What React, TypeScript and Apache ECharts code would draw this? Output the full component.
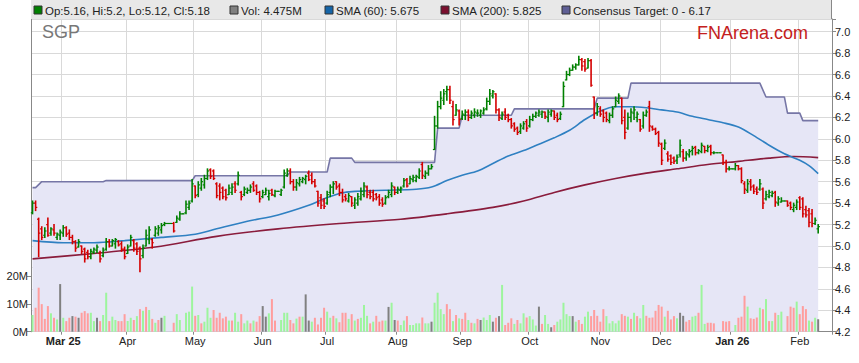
import React, { useEffect, useRef } from "react";
import * as echarts from "echarts";

// ---------- data ----------
const firstTradingDay = "2025-02-17";
const slotCount = 261;
const monthNames = ["Jan", "Feb", "Mar", "Apr", "May", "Jun", "Jul", "Aug", "Sep", "Oct", "Nov", "Dec"];

// [open, high, low, close] per weekday slot (holidays drawn flat at previous close)
const priceBars: [number, number, number, number][] = [
  [5.31,5.42,5.30,5.40],[5.40,5.42,5.33,5.36],[5.25,5.26,4.90,5.12],[5.16,5.18,5.06,5.08],[5.10,5.17,5.08,5.14],
  [5.20,5.26,5.09,5.10],[5.12,5.17,5.10,5.16],[5.15,5.20,5.10,5.12],[5.08,5.12,5.06,5.11],[5.10,5.15,5.06,5.13],
  [5.12,5.19,5.09,5.17],[5.17,5.18,5.09,5.11],[5.12,5.15,5.06,5.08],[5.08,5.10,5.02,5.04],[5.04,5.05,4.95,4.98],
  [4.99,5.06,4.99,5.04],[5.00,5.00,4.93,4.95],[4.97,4.98,4.85,4.88],[4.94,4.96,4.88,4.90],[4.90,4.97,4.88,4.95],
  [4.94,4.98,4.93,4.97],[4.96,5.01,4.94,4.99],[4.93,4.95,4.85,4.88],[4.91,4.98,4.90,4.96],[4.97,5.07,4.96,5.04],
  [5.04,5.06,4.99,5.00],[5.00,5.06,5.00,5.05],[5.02,5.07,4.98,5.06],[5.04,5.05,5.00,5.01],[5.02,5.04,4.95,4.97],
  [4.97,4.99,4.88,4.90],[4.93,5.01,4.93,4.99],[5.00,5.10,5.00,5.08],[5.05,5.06,4.95,4.98],[5.02,5.03,4.92,4.95],
  [4.98,4.99,4.76,4.88],[4.91,5.01,4.89,4.98],[5.00,5.15,5.00,5.10],[5.06,5.18,5.02,5.15],[5.06,5.07,4.98,5.03],
  [5.10,5.18,5.09,5.16],[5.12,5.19,5.10,5.17],[5.15,5.21,5.12,5.19],[5.20,5.22,5.19,5.21],[5.21,5.21,5.21,5.21],
  [5.21,5.21,5.21,5.21],[5.21,5.22,5.13,5.14],[5.22,5.28,5.22,5.26],[5.25,5.32,5.24,5.30],[5.30,5.30,5.30,5.30],
  [5.31,5.42,5.30,5.39],[5.36,5.42,5.34,5.40],[5.42,5.62,5.41,5.58],[5.56,5.56,5.45,5.47],[5.48,5.60,5.46,5.57],
  [5.54,5.63,5.52,5.60],[5.57,5.66,5.54,5.63],[5.63,5.72,5.62,5.70],[5.71,5.72,5.63,5.65],[5.70,5.71,5.62,5.63],
  [5.58,5.59,5.45,5.47],[5.56,5.58,5.43,5.50],[5.54,5.55,5.44,5.46],[5.52,5.53,5.43,5.45],[5.48,5.57,5.48,5.54],
  [5.50,5.58,5.48,5.55],[5.58,5.60,5.50,5.52],[5.58,5.69,5.57,5.66],[5.50,5.51,5.43,5.46],[5.48,5.55,5.47,5.53],
  [5.50,5.54,5.49,5.52],[5.52,5.57,5.50,5.55],[5.58,5.60,5.51,5.52],[5.56,5.57,5.48,5.50],[5.50,5.51,5.41,5.44],
  [5.46,5.52,5.45,5.50],[5.48,5.54,5.48,5.52],[5.46,5.52,5.43,5.49],[5.52,5.53,5.47,5.48],[5.47,5.52,5.46,5.51],
  [5.51,5.51,5.51,5.51],[5.48,5.53,5.47,5.52],[5.55,5.71,5.54,5.68],[5.66,5.72,5.65,5.70],[5.70,5.72,5.58,5.60],
  [5.60,5.62,5.52,5.55],[5.55,5.62,5.52,5.59],[5.58,5.64,5.56,5.62],[5.60,5.64,5.59,5.63],[5.62,5.66,5.58,5.65],
  [5.68,5.70,5.61,5.62],[5.66,5.68,5.58,5.60],[5.60,5.62,5.55,5.56],[5.51,5.51,5.37,5.40],[5.45,5.48,5.35,5.38],
  [5.42,5.44,5.35,5.37],[5.40,5.51,5.39,5.48],[5.50,5.57,5.46,5.55],[5.55,5.60,5.49,5.58],[5.60,5.60,5.53,5.55],
  [5.56,5.58,5.47,5.50],[5.50,5.53,5.41,5.43],[5.46,5.48,5.42,5.44],[5.42,5.49,5.41,5.47],[5.46,5.46,5.37,5.40],
  [5.38,5.45,5.35,5.43],[5.40,5.49,5.38,5.46],[5.44,5.54,5.43,5.51],[5.48,5.59,5.46,5.56],[5.55,5.56,5.45,5.48],
  [5.50,5.52,5.44,5.46],[5.50,5.52,5.42,5.44],[5.48,5.49,5.43,5.45],[5.46,5.48,5.38,5.40],[5.43,5.45,5.37,5.39],
  [5.40,5.47,5.39,5.45],[5.46,5.52,5.45,5.50],[5.48,5.59,5.46,5.56],[5.55,5.55,5.48,5.50],[5.50,5.55,5.49,5.53],
  [5.52,5.55,5.50,5.54],[5.56,5.63,5.55,5.61],[5.62,5.63,5.55,5.56],[5.58,5.65,5.58,5.63],[5.62,5.66,5.60,5.64],
  [5.61,5.66,5.60,5.65],[5.64,5.72,5.63,5.70],[5.76,5.78,5.63,5.66],[5.65,5.70,5.63,5.68],[5.68,5.75,5.66,5.72],
  [5.72,5.76,5.72,5.74],[5.90,6.21,5.90,6.12],[6.12,6.35,6.10,6.30],[6.30,6.44,6.28,6.38],[6.36,6.46,6.32,6.42],
  [6.44,6.49,6.36,6.46],[6.46,6.49,6.33,6.36],[6.30,6.35,6.13,6.18],[6.22,6.32,6.22,6.27],[6.26,6.27,6.13,6.18],
  [6.19,6.26,6.18,6.23],[6.22,6.27,6.18,6.25],[6.25,6.27,6.17,6.20],[6.20,6.26,6.19,6.24],[6.22,6.28,6.20,6.25],
  [6.24,6.27,6.21,6.24],[6.22,6.27,6.20,6.26],[6.24,6.29,6.23,6.27],[6.28,6.38,6.27,6.35],[6.35,6.46,6.32,6.42],
  [6.40,6.45,6.38,6.44],[6.42,6.42,6.24,6.27],[6.27,6.28,6.17,6.20],[6.19,6.25,6.18,6.23],[6.25,6.28,6.18,6.20],
  [6.22,6.23,6.16,6.18],[6.18,6.19,6.10,6.12],[6.14,6.15,6.07,6.09],[6.10,6.11,6.04,6.06],[6.07,6.14,6.05,6.12],
  [6.10,6.16,6.09,6.14],[6.16,6.18,6.07,6.10],[6.12,6.21,6.11,6.18],[6.18,6.23,6.17,6.21],[6.21,6.25,6.20,6.24],
  [6.22,6.27,6.21,6.25],[6.23,6.26,6.20,6.25],[6.25,6.25,6.19,6.21],[6.20,6.27,6.16,6.25],[6.23,6.27,6.21,6.26],
  [6.26,6.26,6.18,6.20],[6.22,6.24,6.16,6.18],[6.19,6.25,6.18,6.23],[6.30,6.53,6.30,6.49],[6.55,6.63,6.55,6.60],
  [6.60,6.66,6.59,6.64],[6.64,6.69,6.64,6.67],[6.67,6.70,6.65,6.69],[6.69,6.77,6.69,6.74],[6.74,6.75,6.64,6.68],
  [6.72,6.74,6.63,6.65],[6.66,6.75,6.66,6.73],[6.73,6.74,6.49,6.50],[6.39,6.39,6.19,6.24],[6.24,6.33,6.22,6.30],
  [6.28,6.30,6.21,6.23],[6.26,6.27,6.16,6.20],[6.24,6.25,6.16,6.18],[6.17,6.24,6.15,6.22],[6.22,6.30,6.20,6.28],
  [6.30,6.39,6.30,6.36],[6.35,6.42,6.33,6.40],[6.38,6.38,6.14,6.17],[6.20,6.27,6.00,6.06],[6.10,6.24,6.09,6.20],
  [6.20,6.28,6.16,6.25],[6.24,6.30,6.18,6.27],[6.20,6.25,6.16,6.23],[6.18,6.18,6.07,6.09],[6.12,6.25,6.10,6.22],
  [6.22,6.27,6.21,6.25],[6.30,6.35,6.07,6.12],[6.11,6.12,6.08,6.09],[6.09,6.10,6.04,6.05],[6.06,6.07,5.93,5.96],
  [5.95,5.96,5.76,5.80],[5.91,5.99,5.90,5.96],[5.86,5.88,5.79,5.81],[5.84,5.85,5.76,5.78],[5.82,5.83,5.77,5.79],
  [5.80,5.85,5.77,5.83],[5.85,5.99,5.83,5.94],[5.88,5.90,5.79,5.82],[5.82,5.88,5.80,5.86],[5.85,5.90,5.83,5.88],
  [5.89,5.93,5.85,5.91],[5.92,5.93,5.85,5.87],[5.87,5.90,5.86,5.89],[5.88,5.96,5.87,5.94],[5.93,5.93,5.87,5.89],
  [5.89,5.94,5.88,5.92],[5.93,5.94,5.85,5.87],[5.87,5.88,5.86,5.87],[5.87,5.87,5.87,5.87],[5.87,5.87,5.87,5.87],
  [5.85,5.85,5.76,5.78],[5.78,5.80,5.69,5.72],[5.72,5.74,5.71,5.72],[5.72,5.72,5.72,5.72],[5.72,5.77,5.71,5.75],
  [5.75,5.75,5.71,5.72],[5.72,5.73,5.59,5.61],[5.58,5.60,5.49,5.53],[5.52,5.62,5.50,5.58],[5.60,5.62,5.52,5.55],
  [5.56,5.57,5.49,5.51],[5.53,5.55,5.48,5.50],[5.53,5.62,5.52,5.58],[5.53,5.54,5.35,5.40],[5.44,5.51,5.43,5.48],
  [5.46,5.52,5.45,5.50],[5.47,5.51,5.46,5.49],[5.50,5.51,5.37,5.41],[5.40,5.46,5.38,5.44],[5.41,5.45,5.41,5.42],
  [5.42,5.42,5.42,5.42],[5.42,5.42,5.37,5.38],[5.40,5.41,5.34,5.36],[5.34,5.40,5.32,5.38],[5.36,5.43,5.34,5.41],
  [5.45,5.46,5.34,5.36],[5.44,5.45,5.27,5.30],[5.34,5.37,5.27,5.29],[5.33,5.35,5.18,5.22],[5.30,5.34,5.18,5.21],
  [5.21,5.26,5.20,5.24],[5.16,5.20,5.12,5.18],
];

// volume in millions (0 on exchange holidays)
const volumes: number[] = [
  6.0,8.6,15.8,9.9,4.6,9.2,6.6,5.0,4.4,17.1,
  5.0,3.8,5.0,5.6,5.4,5.0,6.8,7.4,6.6,6.8,
  3.8,5.0,3.8,6.0,14.0,3.8,5.4,4.2,3.8,3.8,
  6.3,3.8,5.0,4.2,5.6,8.1,7.5,8.9,7.8,4.6,
  3.2,4.2,5.0,5.7,0,0,3.2,6.3,4.2,0,
  6.8,7.2,16.2,5.7,6.0,3.0,3.6,8.6,5.0,7.8,
  5.0,6.8,4.8,5.4,4.0,4.0,6.8,3.6,6.3,3.0,
  4.0,3.0,4.0,3.6,5.6,9.2,5.4,6.6,11.7,4.0,
  0,4.2,6.8,6.8,4.2,3.0,4.7,5.4,5.4,13.4,
  4.0,3.6,5.0,2.6,5.0,8.6,7.2,5.0,5.7,4.8,
  3.4,6.8,6.8,4.6,6.3,4.0,4.6,5.0,9.6,5.7,
  3.0,3.6,5.7,3.6,4.0,4.0,8.9,10.4,4.2,4.0,
  2.4,4.0,5.6,2.4,2.4,3.0,3.0,5.1,3.0,3.0,
  3.6,10.4,14.0,8.1,6.3,9.9,8.1,3.8,6.0,4.8,
  4.6,6.8,4.2,3.2,3.0,4.6,4.2,5.1,4.2,6.0,
  3.6,5.0,5.6,16.8,2.4,3.2,4.8,2.8,4.2,3.0,
  6.6,5.1,5.6,4.4,2.2,9.0,2.8,6.0,2.8,1.6,
  2.4,3.6,4.4,10.4,6.3,5.6,5.6,3.6,4.2,2.8,
  5.4,7.2,5.6,7.8,5.7,3.6,8.1,5.6,3.0,3.8,
  3.0,4.0,6.3,5.7,5.4,4.6,6.8,5.6,4.8,9.6,
  5.7,5.0,5.1,7.5,9.6,9.0,5.4,7.5,4.4,5.6,
  4.8,6.8,5.7,3.6,4.2,5.4,5.7,6.8,16.8,2.8,
  3.2,3.2,3.0,0,0,3.8,3.6,3.8,0,2.4,
  5.0,5.4,12.9,9.0,4.8,4.6,5.1,8.6,8.1,11.7,
  3.8,3.8,6.8,6.0,7.2,0,5.6,9.0,8.6,10.8,
  6.3,9.2,8.1,4.0,3.6,5.0,4.475,
];

// volume bar colour class: G up, R down, K unchanged, - none
const volumeDirs: string[] = (
  "GRRRRRGRGK" + "GRRKRKRRRG" + "GKRGGRGGRR" + "RGGRGRGRGR" + "GRKG--RGG-" +
  "GGGRGRGGGR" + "RRRRGRGGRG" + "GRGRRKKGRR" + "-GGGRRGRGK" + "KGRRRRGGRG" +
  "RRRGRGRGGG" + "RGRRRGKGKR" + "GGRGGGGRGG" + "KGGGGRRGRG" + "RRGRGRKGGG" +
  "KRKGRRRGRG" + "GRGGGKRGGK" + "RGGGGGKGRR" + "GGRRRRRGGG" + "GGRRGRGRGG" +
  "RRRRRRGRRR" + "GKKRRGGRGG" + "RRR--RRR-G" + "RRRGRRRGRG" + "RGRGG-RRRG" +
  "RRRGRGK"
).split("");

// [slot index, value]
const sma60Points: [number, number][] = [
  [0,5.05],[10,5.03],[20,5.03],[30,5.05],[42,5.08],[53,5.11],[60,5.16],[70,5.23],[80,5.29],
  [90,5.38],[95,5.44],[100,5.49],[105,5.51],[115,5.52],[125,5.53],[130,5.55],[135,5.61],
  [140,5.66],[145,5.70],[150,5.77],[155,5.84],[160,5.89],[165,5.95],[170,6.01],[175,6.08],
  [180,6.18],[185,6.26],[190,6.30],[195,6.30],[200,6.29],[205,6.27],[210,6.25],[215,6.21],
  [220,6.18],[225,6.15],[230,6.11],[235,6.03],[240,5.94],[245,5.86],[250,5.80],[253,5.75],[256,5.675],
];
const sma200Points: [number, number][] = [
  [0,4.88],[20,4.93],[40,4.99],[60,5.09],[80,5.16],[100,5.21],[120,5.25],[135,5.30],[150,5.36],
  [160,5.42],[170,5.50],[180,5.57],[190,5.63],[200,5.68],[210,5.72],[220,5.76],[230,5.79],
  [240,5.82],[248,5.835],[256,5.825],
];
const targetPoints: [number, number][] = [
  [0,5.545],[1,5.545],[3,5.60],[23,5.60],[24,5.61],[52,5.61],[53,5.655],[83,5.655],[84,5.69],
  [96,5.69],[97,5.82],[104,5.82],[105,5.78],[131,5.78],[132,6.10],[139,6.10],[140,6.22],
  [156,6.22],[157,6.28],[183,6.28],[184,6.38],[194,6.38],[195,6.52],[237,6.52],[239,6.39],
  [245,6.39],[246,6.24],[250,6.24],[251,6.17],[256,6.17],
];

const legendItems = [
  { text: "Op:5.16, Hi:5.2, Lo:5.12, Cl:5.18", color: "#008000", x: 34 },
  { text: "Vol: 4.475M", color: "#808080", x: 230 },
  { text: "SMA (60): 5.675", color: "#1565a8", x: 325 },
  { text: "SMA (200): 5.825", color: "#7a0f2e", x: 441 },
  { text: "Consensus Target: 0 - 6.17", color: "#5f5f95", x: 562 },
];

// ---------- helpers ----------
function weekdays(start: string, n: number): Date[] {
  const out: Date[] = [];
  const [y, m, d] = start.split("-").map(Number);
  let t = Date.UTC(y, m - 1, d);
  while (out.length < n) {
    const dt = new Date(t);
    const wd = dt.getUTCDay();
    if (wd !== 0 && wd !== 6) out.push(dt);
    t += 86400000;
  }
  return out;
}

const dates = weekdays(firstTradingDay, slotCount);
const categories = dates.map((d) => d.toISOString().slice(0, 10));
const monthStart = dates.map((d, i) => i > 0 && d.getUTCMonth() !== dates[i - 1].getUTCMonth());
let firstLabelSeen = false;
const labelText = dates.map((d, i) => {
  if (!monthStart[i]) return "";
  const m = monthNames[d.getUTCMonth()];
  if (!firstLabelSeen || d.getUTCMonth() === 0) {
    firstLabelSeen = true;
    return `{b|${m} ${String(d.getUTCFullYear()).slice(2)}}`;
  }
  return m;
});

const FONT = "'Liberation Sans', Arial, sans-serif";
const dirColor: Record<string, string> = { G: "#9df59d", R: "#ff9d9d", K: "#808080", "-": "rgba(0,0,0,0)" };

export default function App() {
  const ref = useRef<HTMLDivElement>(null);

  useEffect(() => {
    if (!ref.current) return;
    const chart = echarts.init(ref.current, undefined, { renderer: "svg" });

    const plotTop = 19;
    const plotBottom = 331.7;
    const pxPerUnit = 21.43 / 0.2;
    const priceMax = 4.2 + (plotBottom - plotTop) / pxPerUnit;

    const graphics: any[] = [
      { type: "rect", shape: { x: 31, y: 0, width: 801, height: 19 }, style: { fill: "#e8e8e8" }, z: 10 },
      { type: "line", shape: { x1: 831.5, y1: 0, x2: 831.5, y2: 19 }, style: { stroke: "#888", lineWidth: 1 }, z: 11 },
    ];
    legendItems.forEach((it) => {
      graphics.push({
        type: "rect",
        shape: { x: it.x, y: 6, width: 8, height: 8 },
        style: { fill: it.color, stroke: "#333", lineWidth: 1 },
        z: 11,
      });
      graphics.push({
        type: "text",
        x: it.x + 11,
        y: 10.5,
        style: { text: it.text, fill: "#222", font: `11.5px ${FONT}`, textAlign: "left", textVerticalAlign: "middle" },
        z: 11,
      });
    });
    graphics.push({
      type: "text",
      x: 42,
      y: 32,
      style: { text: "SGP", fill: "#777", font: `18px ${FONT}`, textAlign: "left", textVerticalAlign: "middle" },
      z: 11,
    });
    graphics.push({
      type: "text",
      x: 808,
      y: 33,
      style: { text: "FNArena.com", fill: "#c42020", font: `18px ${FONT}`, textAlign: "right", textVerticalAlign: "middle" },
      z: 11,
    });

    const option: any = {
      animation: false,
      backgroundColor: "#ffffff",
      textStyle: { fontFamily: FONT },
      grid: [
        { left: 31, right: 27, top: plotTop, bottom: 363 - plotBottom },
        { left: 31, right: 27, top: 276, bottom: 363 - plotBottom },
      ],
      xAxis: [
        {
          type: "category",
          gridIndex: 0,
          data: categories,
          boundaryGap: true,
          axisLine: { show: false },
          axisTick: { show: false },
          axisLabel: { show: false },
          splitLine: { show: true, interval: (i: number) => monthStart[i], lineStyle: { color: "#d9d9d9", width: 1 } },
        },
        {
          type: "category",
          gridIndex: 1,
          data: categories,
          boundaryGap: true,
          axisLine: { show: true, lineStyle: { color: "#888", width: 1 } },
          axisTick: { show: true, interval: (i: number) => monthStart[i], length: 3, lineStyle: { color: "#888" } },
          axisLabel: {
            show: true,
            interval: (i: number) => monthStart[i],
            formatter: (_v: string, i: number) => labelText[i],
            fontSize: 11,
            color: "#222",
            margin: 4,
            fontFamily: FONT,
            rich: { b: { fontWeight: "bold", fontSize: 11, color: "#222", fontFamily: FONT } },
          },
          splitLine: { show: false },
        },
      ],
      yAxis: [
        {
          type: "value",
          gridIndex: 0,
          position: "right",
          min: 4.2,
          max: priceMax,
          interval: 0.2,
          axisLine: { show: true, lineStyle: { color: "#888", width: 1 } },
          axisTick: { show: true, length: 4, lineStyle: { color: "#888" } },
          axisLabel: {
            fontSize: 11,
            color: "#222",
            margin: 3,
            fontFamily: FONT,
            formatter: (v: number) => (Math.abs(v * 5 - Math.round(v * 5)) > 1e-6 ? "" : v.toFixed(1)),
          },
          splitLine: { show: true, lineStyle: { color: "#d9d9d9", width: 1 } },
        },
        {
          type: "value",
          gridIndex: 1,
          position: "left",
          min: 0,
          max: 20,
          interval: 10,
          axisLine: { show: true, lineStyle: { color: "#888", width: 1 } },
          axisTick: { show: true, length: 4, lineStyle: { color: "#888" } },
          axisLabel: { fontSize: 11, color: "#222", margin: 3, fontFamily: FONT, formatter: (v: number) => `${v}M` },
          splitLine: { show: false },
        },
        {
          type: "value",
          gridIndex: 0,
          position: "left",
          min: 0,
          max: 1,
          axisLine: { show: true, lineStyle: { color: "#888", width: 1 } },
          axisTick: { show: false },
          axisLabel: { show: false },
          splitLine: { show: false },
        },
      ],
      graphic: graphics,
      series: [
        {
          name: "Consensus Target",
          type: "line",
          xAxisIndex: 0,
          yAxisIndex: 0,
          data: targetPoints,
          symbol: "none",
          lineStyle: { color: "#7676a6", width: 1.6 },
          areaStyle: { color: "#e6e6f6", opacity: 1 },
          z: 1,
          silent: true,
        },
        {
          name: "Vol",
          type: "bar",
          xAxisIndex: 1,
          yAxisIndex: 1,
          barWidth: 2,
          data: volumes.map((v, i) => ({ value: v, itemStyle: { color: dirColor[volumeDirs[i]] } })),
          z: 2,
          silent: true,
        },
        {
          name: "SMA (200)",
          type: "line",
          xAxisIndex: 0,
          yAxisIndex: 0,
          data: sma200Points,
          symbol: "none",
          smooth: 0.3,
          lineStyle: { color: "#8a1c3c", width: 1.6 },
          z: 3,
          silent: true,
        },
        {
          name: "SMA (60)",
          type: "line",
          xAxisIndex: 0,
          yAxisIndex: 0,
          data: sma60Points,
          symbol: "none",
          smooth: 0.3,
          lineStyle: { color: "#2f80c2", width: 1.6 },
          z: 3,
          silent: true,
        },
        {
          name: "OHLC",
          type: "custom",
          xAxisIndex: 0,
          yAxisIndex: 0,
          data: priceBars.map((b, i) => [i, b[0], b[3], b[2], b[1]]),
          encode: { x: 0, y: [1, 2, 3, 4] },
          z: 4,
          silent: true,
          renderItem: (_params: any, api: any) => {
            const i = api.value(0);
            const o = api.value(1);
            const c = api.value(2);
            const l = api.value(3);
            const h = api.value(4);
            const top = api.coord([i, h]);
            const bot = api.coord([i, l]);
            const po = api.coord([i, o]);
            const pc = api.coord([i, c]);
            const w = api.size([1, 0])[0];
            const tick = w * 0.55;
            const color = c >= o ? "#008000" : "#d40000";
            const x = top[0];
            return {
              type: "group",
              children: [
                { type: "line", shape: { x1: x, y1: top[1] - 0.5, x2: x, y2: bot[1] + 0.5 }, style: { stroke: color, lineWidth: 1.6 } },
                { type: "line", shape: { x1: x - tick, y1: po[1], x2: x, y2: po[1] }, style: { stroke: color, lineWidth: 1.2 } },
                { type: "line", shape: { x1: x, y1: pc[1], x2: x + tick, y2: pc[1] }, style: { stroke: color, lineWidth: 1.2 } },
              ],
            };
          },
        },
      ],
    };

    chart.setOption(option);
    return () => chart.dispose();
  }, []);

  return (
    <div
      ref={ref}
      style={{ position: "fixed", left: 0, top: 0, width: 859, height: 363, background: "#fff" }}
    />
  );
}
